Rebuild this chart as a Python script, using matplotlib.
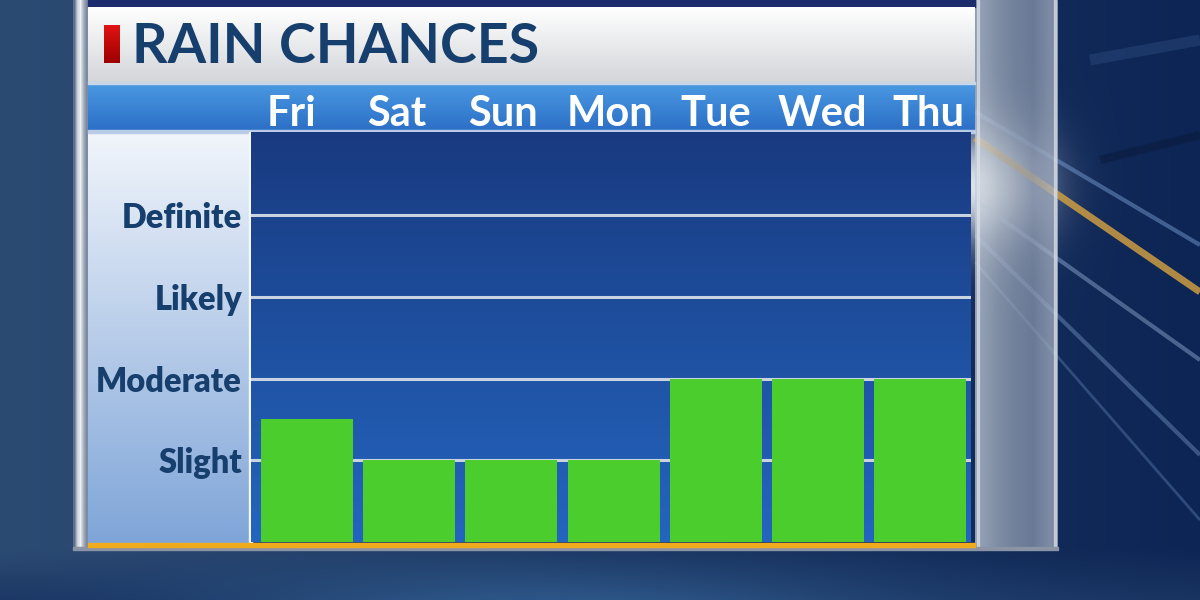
import numpy as np
import matplotlib
matplotlib.use('Agg')
import matplotlib.pyplot as plt
from matplotlib.colors import to_rgb
from matplotlib.patches import Rectangle

# ---- data ----
days = ['Fri', 'Sat', 'Sun', 'Mon', 'Tue', 'Wed', 'Thu']
chance = [1.5, 1, 1, 1, 2, 2, 2]
level_values = [1, 2, 3, 4]
level_labels = ['Slight', 'Moderate', 'Likely', 'Definite']
title = 'RAIN CHANCES'

FONT = ['Lato', 'DejaVu Sans']
NAVY_TXT = '#173f6e'
W, H = 1200, 600

fig = plt.figure(figsize=(12, 6), dpi=100)
bg = fig.add_axes([0, 0, 1, 1])
bg.axis('off')


def grad_img(c0, c1, n=256, vertical=True):
    t = np.linspace(0, 1, n)
    a = np.array(to_rgb(c0)); b = np.array(to_rgb(c1))
    img = a[None, :] * (1 - t[:, None]) + b[None, :] * t[:, None]
    if vertical:
        return img[:, None, :]
    return img[None, :, :]


def vgrad(x0, x1, y0, y1, c0, c1, z, alpha=1.0):
    bg.imshow(grad_img(c0, c1), extent=(x0, x1, y1, y0), aspect='auto',
              zorder=z, interpolation='bilinear', alpha=alpha)


def hgrad_multi(x0, x1, y0, y1, cols, z, alpha=1.0):
    arr = np.array([to_rgb(c) for c in cols])[None, :, :]
    bg.imshow(arr, extent=(x0, x1, y1, y0), aspect='auto', zorder=z,
              interpolation='bilinear', alpha=alpha)


# ---- background outside the panel ----
yy, xx = np.mgrid[0:H:2, 0:W:2]
c_left = np.array(to_rgb('#2c4b73'))
c_right = np.array(to_rgb('#0d2554'))
tx = np.clip(xx / W, 0, 1)[..., None]
base = c_left * (1 - tx) + c_right * tx
# bottom band: slightly lighter blue in the middle
ty = np.clip((yy - 548) / 52, 0, 1)[..., None]
mid = np.exp(-((xx - 550) / 350.0) ** 2)[..., None]
bottom_col = np.array(to_rgb('#1a3461')) * (1 - mid) + np.array(to_rgb('#2d5789')) * mid
base = base * (1 - ty) + bottom_col * ty
# lens glow near right frame
d2 = (xx - 985) ** 2 + (yy - 185) ** 2
glow = np.exp(-d2 / (2 * 40 ** 2))[..., None]
base = base * (1 - 0.9 * glow) + 0.9 * glow * np.array([1, 1, 1])
bg.imshow(np.clip(base, 0, 1), extent=(0, W, H, 0), aspect='auto', zorder=0,
          interpolation='bilinear')

# streaks on the right
streaks = [((975, 138), (1200, 292), '#d9a441', 5, 0.8),
           ((975, 112), (1200, 245), '#7fa6da', 3, 0.45),
           ((975, 200), (1200, 360), '#a9c2e6', 3, 0.40),
           ((975, 235), (1200, 455), '#8fb0dc', 3, 0.35),
           ((975, 262), (1200, 520), '#7aa0d6', 2, 0.30),
           ((1090, 60), (1200, 40), '#3c5f95', 8, 0.30),
           ((1100, 160), (1200, 135), '#0b1a3a', 6, 0.5)]
for (p0, p1, c, lw, a) in streaks:
    bg.plot([p0[0], p1[0]], [p0[1], p1[1]], color=c, lw=lw, alpha=a, zorder=1,
            solid_capstyle='butt')

# ---- panel frame ----
hgrad_multi(73, 88, 0, 549, ['#5e6f88', '#c9d0da', '#eef1f5', '#aab3c0', '#7d8aa0'], 2)
hgrad_multi(975, 1058, 0, 549, ['#c3cbd6', '#a8b2c1', '#98a3b5', '#8e9ab0', '#a8b2c2'], 2, alpha=0.72)
bg.add_patch(Rectangle((977, 0), 2, 549, color='#dfe5ee', alpha=0.6, zorder=3))
bg.add_patch(Rectangle((1054, 0), 2, 549, color='#dfe5ee', alpha=0.6, zorder=3))
bg.add_patch(Rectangle((73, 547), 985, 3, color='#8a94a4', zorder=3))

# top dark strip
bg.add_patch(Rectangle((88, 0), 887, 7, color='#1d2c6d', zorder=3))
# title bar
vgrad(88, 975, 7, 83, '#ffffff', '#d3d5d9', 3)
bg.add_patch(Rectangle((88, 82), 887, 2, color='#c8d6e8', zorder=4))
# header bar
vgrad(88, 975, 84, 131, '#4a98e2', '#2b6fc6', 3)
bg.add_patch(Rectangle((88, 130), 887, 2.5, color='#b9cbe6', zorder=4))
# left label panel
vgrad(88, 249, 132, 543, '#f1f5fb', '#7fa5d8', 3)
bg.add_patch(Rectangle((249, 132), 2.5, 411, color='#f4f7fc', zorder=4))
# orange baseline
bg.add_patch(Rectangle((88, 543), 887, 4, color='#f0aa1e', zorder=6))

# red marker + title
vgrad(104, 120, 25, 63, '#e01414', '#9c0000', 5)
bg.text(132, 63, title, fontsize=40, fontweight='bold', family=FONT,
        color=NAVY_TXT, va='baseline', ha='left', zorder=6)

bg.set_xlim(0, W)
bg.set_ylim(H, 0)

# ---- chart axes ----
ax_l, ax_r, ax_t, ax_b = 251, 971, 132, 542
ax = fig.add_axes([ax_l / W, 1 - ax_b / H, (ax_r - ax_l) / W, (ax_b - ax_t) / H])
ax.imshow(grad_img('#193a80', '#2465bf'), extent=(0, 1, 0, 1),
          transform=ax.transAxes, aspect='auto', zorder=0, interpolation='bilinear')
x = np.arange(len(days))
ax.bar(x, chance, width=0.9, color='#4bcd2e', zorder=3)
for v in level_values:
    ax.axhline(v, color='#c9d3e2', lw=2.2, zorder=2)
ax.set_xlim(-0.55, 6.5)
ax.set_ylim(0, 5.02)
ax.set_yticks(level_values)
ax.set_yticklabels(level_labels, fontsize=23.5, fontweight='heavy', family=FONT,
                   color=NAVY_TXT)
ax.tick_params(axis='y', length=0, pad=6.5)
ax.set_xticks([])
for s in ax.spines.values():
    s.set_visible(False)

# day labels in header
axt = ax.twiny()
axt.set_xlim(-0.377, 6.403)
axt.set_xticks(x)
axt.set_xticklabels(days, fontsize=30, fontweight='bold', family=FONT, color='white')
for lbl in axt.get_xticklabels():
    lbl.set_verticalalignment('baseline')
axt.tick_params(axis='x', length=0, pad=4.4)
for s in axt.spines.values():
    s.set_visible(False)

fig.savefig('out.png', dpi=100)
